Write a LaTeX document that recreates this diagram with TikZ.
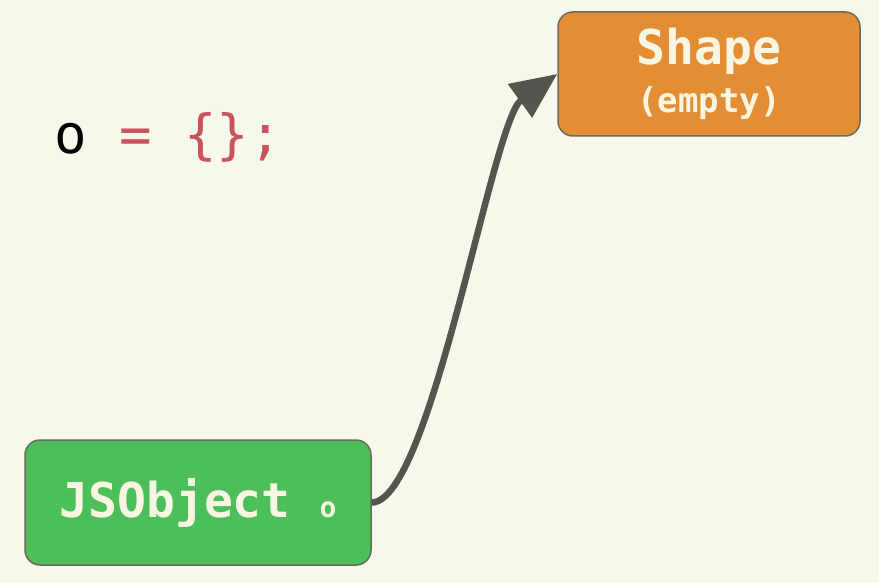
\documentclass[tikz,border=0pt]{standalone}
\usepackage{fontspec}
\setmonofont{DejaVu Sans Mono}
\usetikzlibrary{arrows.meta}
\definecolor{bg}{HTML}{F7F8EC}
\definecolor{boxgreen}{HTML}{4CBE5A}
\definecolor{boxorange}{HTML}{E38E35}
\definecolor{boxline}{HTML}{6A6A5C}
\definecolor{txtlight}{HTML}{F8F6E2}
\definecolor{arrowgray}{HTML}{555550}
\definecolor{codered}{HTML}{C9525C}
\tikzset{
  objbox/.style={draw=boxline, line width=1.5pt, rounded corners=15pt, text=txtlight, align=center, inner sep=0pt},
  link/.style={draw=arrowgray, line width=6.5pt, -{Triangle[length=46pt,width=40pt]}}
}
\begin{document}
\begin{tikzpicture}[x=1pt,y=-1pt]
\fill[bg] (0,0) rectangle (879,583);
\useasboundingbox (0,0) rectangle (879,583);
\node[objbox, fill=boxgreen, minimum width=346pt, minimum height=125pt,
  font=\ttfamily\bfseries\fontsize{48}{48}\selectfont] (g) at (198,502.5)
  {JSObject{} {\fontsize{28}{28}\selectfont o}};
\node[objbox, fill=boxorange, minimum width=302pt, minimum height=124pt,
  font=\ttfamily\bfseries\fontsize{48}{48}\selectfont] (s) at (709,74)
  {Shape\\{\fontsize{34}{48}\selectfont (empty)}};
\node[anchor=west, inner sep=0pt, font=\ttfamily\fontsize{54}{54}\selectfont] (code) at (54,137)
  {o~\textcolor{codered}{=~\{\};}};
\draw[link] (g.east) .. controls (431,502) and (492,121) .. (s.west);
\end{tikzpicture}
\end{document}
